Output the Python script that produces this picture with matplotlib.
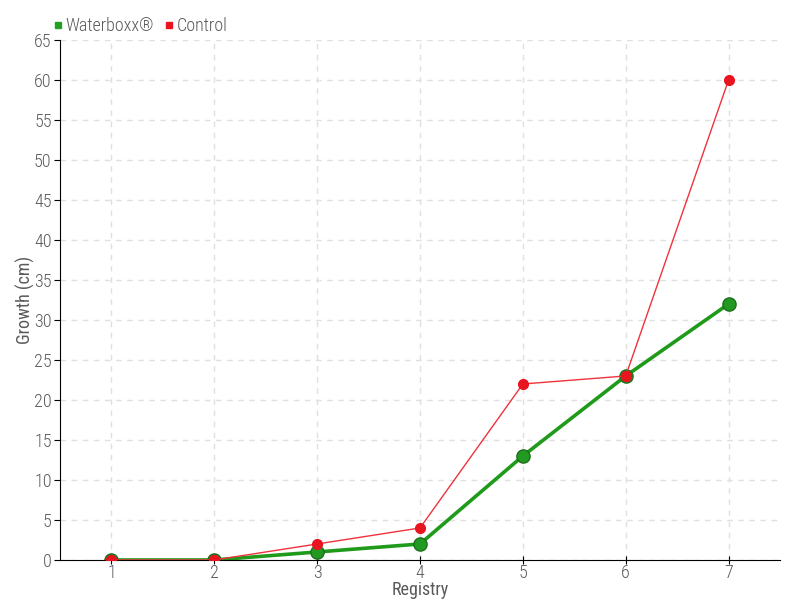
import matplotlib.pyplot as plt
from matplotlib import font_manager
from matplotlib.lines import Line2D

registry = [1, 2, 3, 4, 5, 6, 7]
waterboxx = [0, 0, 1, 2, 13, 23, 32]
control = [0, 0, 2, 4, 22, 23, 60]
yticks = list(range(0, 70, 5))

names = sorted({f.name for f in font_manager.fontManager.ttflist})
fam = 'Roboto Condensed' if 'Roboto Condensed' in names else 'Roboto'
plt.rcParams['font.family'] = [fam, 'DejaVu Sans']
plt.rcParams['font.weight'] = 'light'

txt = '#5a5a5a'
fig = plt.figure(figsize=(8, 6), dpi=100)
ax = fig.add_axes([0.075, 0.0667, 0.9, 0.8667])

ax.plot(registry, control, color='#f0323c', lw=1, marker='o', ms=7,
        mfc='#e8141f', mec='#e8141f', zorder=3, label='Control')
ax.plot(registry, waterboxx, color='#1f9a1a', lw=2.6, marker='o', ms=9.5,
        mfc='#229a22', mec='#1d6e1d', mew=1, zorder=2, label='Waterboxx®')
# control markers on top at the shared points
ax.plot(registry[:2], control[:2], ls='none', marker='o', ms=7,
        mfc='#e8141f', mec='#e8141f', zorder=4)
ax.plot(registry[5], control[5], ls='none', marker='o', ms=7,
        mfc='#e8141f', mec='#e8141f', zorder=4)

ax.set_xlim(0.5, 7.5)
ax.set_ylim(0, 65)
ax.set_xticks(registry)
ax.set_yticks(yticks)
ax.grid(True, ls=(0, (4, 4)), color='#e0e0e0', lw=1)
ax.set_axisbelow(True)
for s in ['top', 'right']:
    ax.spines[s].set_visible(False)
ax.spines['left'].set_color('black')
ax.spines['bottom'].set_color('black')
ax.tick_params(axis='both', colors='black', labelcolor=txt, labelsize=13, length=4, pad=2)
ax.tick_params(axis='x', direction='inout', length=6, pad=0)
ax.set_xlabel('Registry', color=txt, fontsize=13, labelpad=-1)
ax.set_ylabel('Growth (cm)', color=txt, fontsize=13, labelpad=-1)

handles = [Line2D([], [], ls='none', marker='s', ms=5, color='#22a022'),
           Line2D([], [], ls='none', marker='s', ms=5, color='#e8141f')]
fig.legend(handles, ['Waterboxx®', 'Control'], loc='upper left',
           bbox_to_anchor=(0.045, 0.998), ncol=2, frameon=False,
           fontsize=13, handlelength=0.6, handletextpad=0.15,
           columnspacing=0.5, labelcolor=txt)

fig.savefig('out.png', dpi=100)
